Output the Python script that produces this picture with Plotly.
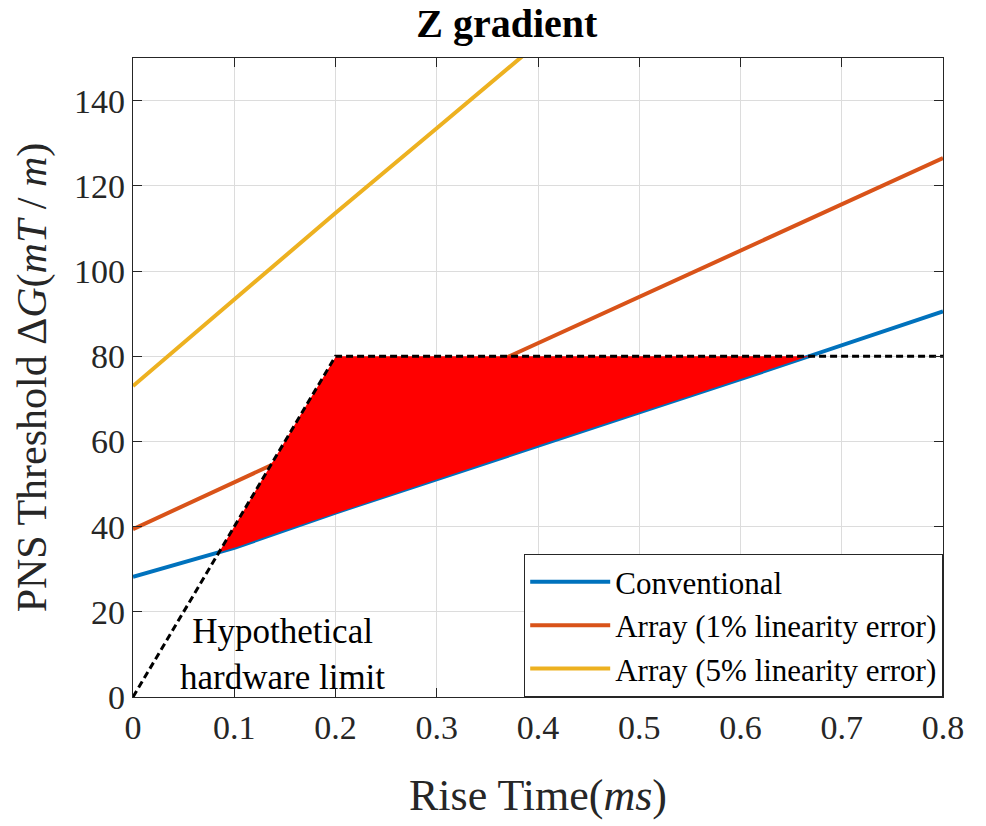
import numpy as np
import plotly.graph_objects as go

# --- data ---
rise_time = [0.0, 0.1, 0.2, 0.3, 0.4, 0.5, 0.6, 0.7, 0.8]
conventional = [28.2, 35.0, 43.3, 51.2, 59.0, 66.8, 74.6, 82.6, 90.5]
array_1pct = [39.4, 50.5, 61.4, 72.2, 83.1, 93.9, 104.8, 115.7, 126.5]
rise_time_5 = [0.0, 0.1, 0.2, 0.3, 0.4]
array_5pct = [73.0, 93.3, 113.6, 133.5, 153.5]
hw_x = [0.0, 0.2, 0.8]
hw_y = [0.0, 80.0, 80.0]

x_ticks = [0, 0.1, 0.2, 0.3, 0.4, 0.5, 0.6, 0.7, 0.8]
x_ticktext = ["0", "0.1", "0.2", "0.3", "0.4", "0.5", "0.6", "0.7", "0.8"]
y_ticks = [0, 20, 40, 60, 80, 100, 120, 140]

# --- fill region: hardware limit above conventional curve ---
xf = np.linspace(0, 0.8, 1601)
hw_f = np.interp(xf, hw_x, hw_y)
conv_f = np.interp(xf, rise_time, conventional)
mask = hw_f >= conv_f
xs = xf[mask]
fill_x = list(xs) + list(xs[::-1])
fill_y = list(hw_f[mask]) + list(conv_f[mask][::-1])

FONT = "Liberation Serif, Times New Roman, serif"

fig = go.Figure()
fig.add_trace(go.Scatter(x=rise_time, y=conventional, mode="lines", name="Conventional",
                         line=dict(color="#0072BD", width=4)))
fig.add_trace(go.Scatter(x=rise_time, y=array_1pct, mode="lines", name="Array (1% linearity error)",
                         line=dict(color="#D95319", width=4)))
fig.add_trace(go.Scatter(x=rise_time_5, y=array_5pct, mode="lines", name="Array (5% linearity error)",
                         line=dict(color="#EDB120", width=4)))
fig.add_trace(go.Scatter(x=fill_x, y=fill_y, mode="lines", fill="toself", fillcolor="#FF0000",
                         line=dict(width=0, color="#FF0000"), showlegend=False, hoverinfo="skip"))
fig.add_trace(go.Scatter(x=hw_x, y=hw_y, mode="lines", showlegend=False,
                         line=dict(color="black", width=3, dash="7px,4px")))

fig.add_annotation(x=0.148, y=10, text="Hypothetical<br>hardware limit", showarrow=False,
                   font=dict(family=FONT, size=35, color="black"), align="center")

axis_common = dict(showline=True, linecolor="#262626", linewidth=1.2, mirror="ticks",
                   ticks="inside", ticklen=9, tickcolor="#262626",
                   showgrid=True, gridcolor="#DCDCDC", gridwidth=1, zeroline=False,
                   tickfont=dict(family=FONT, size=34, color="#262626"))

fig.update_xaxes(range=[0, 0.8], tickvals=x_ticks, ticktext=x_ticktext,
                 title=dict(text="Rise Time(<i>ms</i>)", font=dict(family=FONT, size=44, color="#262626"),
                            standoff=34),
                 **axis_common)
fig.update_yaxes(range=[0, 150], tickvals=y_ticks,
                 title=dict(text="PNS Threshold Δ<i>G</i>(<i>mT</i> / <i>m</i>)",
                            font=dict(family=FONT, size=42, color="#262626"), standoff=14),
                 **axis_common)

fig.update_layout(
    width=986, height=826,
    margin=dict(l=133, r=43, t=58, b=129),
    plot_bgcolor="white", paper_bgcolor="white",
    title=dict(text="<b>Z gradient</b>", x=0.514, xanchor="center", y=0.972, yanchor="middle",
               font=dict(family=FONT, size=40, color="black")),
    legend=dict(x=1, y=0, xanchor="right", yanchor="bottom", bgcolor="white",
                bordercolor="#262626", borderwidth=1.2,
                font=dict(family=FONT, size=31, color="black"), itemwidth=80,
                tracegroupgap=0),
    showlegend=True,
)

fig.write_html("out.html")
